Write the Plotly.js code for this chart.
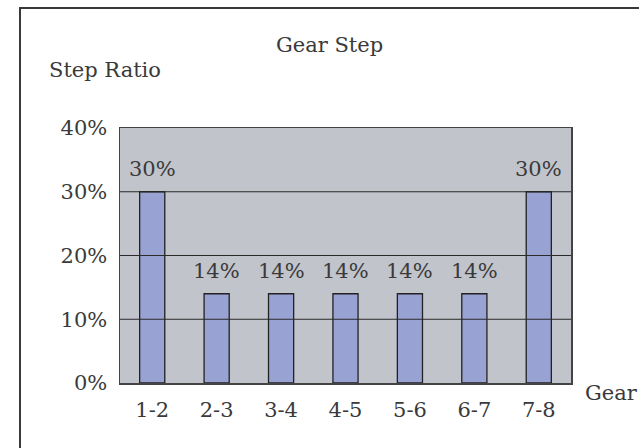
<!DOCTYPE html>
<html>
<head>
<meta charset="utf-8">
<script src="https://cdn.plot.ly/plotly-3.0.1.min.js"></script>
<style>
html,body{margin:0;padding:0;background:#fff;overflow:hidden;}
#frame{position:absolute;left:19px;top:7px;width:700px;height:500px;border-left:2px solid #3a3a3a;border-top:2px solid #3a3a3a;pointer-events:none;z-index:5;}
#chart{width:639px;height:448px;}
</style>
</head>
<body>
<div id="chart"></div>
<div id="frame"></div>
<script>
const categories = ['1-2','2-3','3-4','4-5','5-6','6-7','7-8'];
const stepRatio = [0.30,0.14,0.14,0.14,0.14,0.14,0.30];
const yTickVals = [0,0.1,0.2,0.3,0.4];
const yTickText = ['0%','10%','20%','30%','40%'];

const FONT = 'DejaVu Serif, Liberation Serif, serif';
const TXT = '#3a3a3a';
const FS = 21;

const trace = {
  type:'bar',
  x:categories,
  y:stepRatio,
  marker:{color:'#99a3d3',line:{color:'#222',width:1.3}},
  hoverinfo:'none'
};

const gridShapes = yTickVals.filter(v=>v>0 && v<0.4).map(v=>({
  type:'line',xref:'paper',yref:'y',x0:0,x1:1,y0:v,y1:v,
  line:{color:'#2a2a2a',width:1.2},layer:'above'
}));

const valueLabels = categories.map((c,i)=>({
  x:c,y:stepRatio[i],xref:'x',yref:'y',text:Math.round(stepRatio[i]*100)+'%',
  showarrow:false,xanchor:'center',yanchor:'bottom',yshift:9,
  font:{family:FONT,size:FS,color:TXT}
}));

const layout = {
  width:639,height:448,
  margin:{l:120,r:68,t:128,b:65},
  paper_bgcolor:'#ffffff',
  plot_bgcolor:'#c1c4cb',
  bargap:0.61,
  showlegend:false,
  font:{family:FONT,color:TXT,size:FS},
  xaxis:{
    type:'category',
    showgrid:false,
    showline:true,linecolor:'#444',linewidth:1.5,mirror:true,
    ticks:'',
    tickfont:{family:FONT,size:FS,color:TXT},
    ticklabelstandoff:7,
    fixedrange:true
  },
  yaxis:{
    range:[0,0.4],
    tickvals:yTickVals,
    ticktext:yTickText,
    showgrid:false,
    zeroline:false,
    showline:true,linecolor:'#444',linewidth:1.5,mirror:true,
    ticks:'',
    ticklabelstandoff:7,
    tickfont:{family:FONT,size:FS,color:TXT},
    fixedrange:true
  },
  shapes:gridShapes,
  annotations:valueLabels.concat([
    {text:'Gear Step',xref:'paper',yref:'paper',x:0.465,y:1.0,yshift:83,showarrow:false,
     xanchor:'center',yanchor:'middle',font:{family:FONT,size:FS,color:TXT}},
    {text:'Step Ratio',xref:'paper',yref:'paper',x:0,xshift:-73,y:1.0,yshift:58,showarrow:false,
     xanchor:'left',yanchor:'middle',font:{family:FONT,size:FS,color:TXT}},
    {text:'Gear',xref:'paper',yref:'paper',x:1,xshift:12,y:0,yshift:-10,showarrow:false,
     xanchor:'left',yanchor:'middle',font:{family:FONT,size:FS,color:TXT}}
  ])
};

Plotly.newPlot('chart',[trace],layout,{displayModeBar:false,staticPlot:true});
</script>
</body>
</html>
